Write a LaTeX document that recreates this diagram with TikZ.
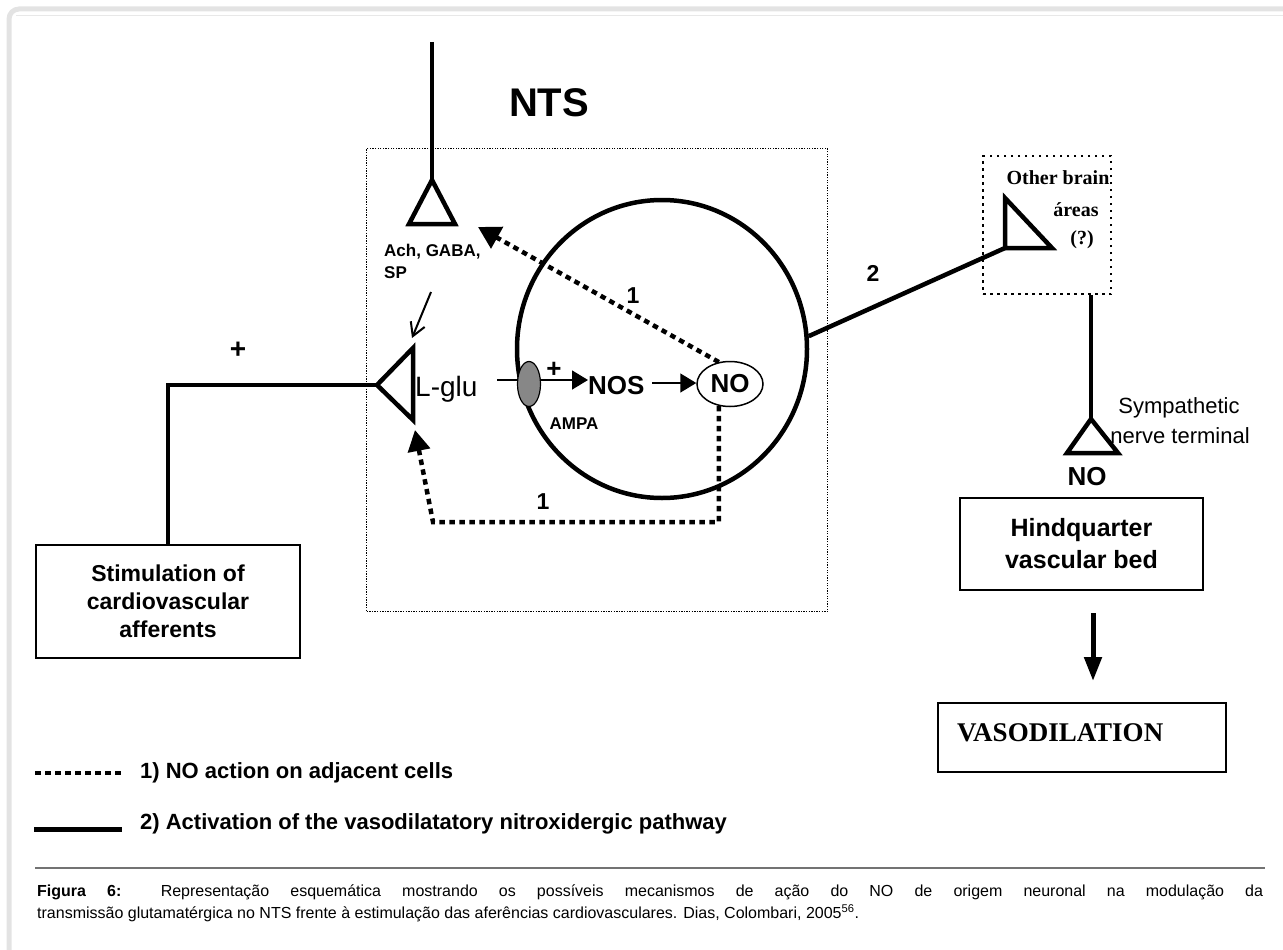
\documentclass[tikz,border=0pt]{standalone}
\usepackage{fontspec}
\setmainfont{Liberation Sans}
\newfontfamily\seriffam{Liberation Serif}
\usetikzlibrary{arrows.meta,calc,shapes.geometric}
\newcommand\fz[2]{\fontsize{#1}{#2}\selectfont}
\begin{document}
\begin{tikzpicture}[x=1pt,y=-1pt,
  thickline/.style={line width=4.5pt, line join=miter},
  thinarrow/.style={line width=1.6pt, -{Triangle[length=16pt,width=19pt]}},
  dotpath/.style={line width=4.5pt, dash pattern=on 5.5pt off 4.5pt},
  boxnode/.style={draw, line width=1.8pt, align=center, inner sep=0pt},
  lbl/.style={inner sep=0pt}
]
\useasboundingbox (0,0) rectangle (1283,950);
% frame
\draw[gray!22, line width=5pt, rounded corners=10pt] (9,9) rectangle (1320,990);
\draw[gray!18, line width=1pt] (16,16) -- (1283,16);
% title
\node[lbl, font=\bfseries\fz{40}{48}] (nts) at (549,103) {NTS};
% NTS box
\node[draw, line width=1.3pt, dash pattern=on 1.3pt off 1.3pt, minimum width=461pt, minimum height=463pt, inner sep=0pt, anchor=north west] (ntsbox) at (366,148) {};
% big cell
\node[draw, ellipse, line width=4.5pt, minimum width=290pt, minimum height=298pt, inner sep=0pt] (cell) at (662,349) {};
% top input and Ach terminal
\coordinate (topin) at (432,42);
\coordinate (achapex) at (432,180);
\draw[thickline] (topin) -- (achapex);
\draw[thickline] (achapex) -- (409,224) -- (455,224) -- cycle;
\node[lbl, anchor=base west, font=\bfseries\fz{17}{22}] (achlbl) at (384,256) {Ach, GABA,};
\node[lbl, anchor=base west, font=\bfseries\fz{17}{22}] (achlbl2) at (384,278) {SP};
% small open arrow
\coordinate (sa1) at (431,292);
\coordinate (sa2) at (412,338);
\draw[line width=2pt, -{Straight Barb[length=13pt,width=15pt]}] (sa1) -- (sa2);
% L-glu terminal
\coordinate (lapex) at (377,385);
\draw[thickline] (lapex) -- (413,348) -- (413,420) -- cycle;
\node[lbl, anchor=base west, font=\fz{28}{32}] (lglu) at (415,396) {L-glu};
% AMPA and NOS
\coordinate (lgl) at (497,380);
\node[lbl, anchor=base west, font=\bfseries\fz{26}{30}] (nos) at (588,394) {NOS};
\draw[thinarrow] (lgl) -- (nos.west |- lgl);
\node[draw, ellipse, line width=1.2pt, fill=black!47, minimum width=23pt, minimum height=45pt, inner sep=0pt] (ampa) at (529,384) {};
\node[lbl, font=\bfseries\fz{26}{30}] (plus1) at (554,370) {+};
\node[lbl, font=\bfseries\fz{17}{20}] (ampalbl) at (574,424) {AMPA};
% NO
\node[draw, ellipse, line width=1.5pt, minimum width=66pt, minimum height=45pt, inner sep=0pt, font=\bfseries\fz{26}{30}] (no) at (730,384) {NO};
\coordinate (nosout) at (652,383);
\draw[thinarrow] (nosout) -- (no.west |- nosout);
% dotted pathway 1 (upper)
\coordinate (achtip) at (478,227);
\draw[dotpath, -{Triangle[length=22pt,width=24pt]}] (no.117) -- (achtip);
\node[lbl, font=\bfseries\fz{23}{26}] (one1) at (633,296) {1};
% dotted pathway 1 (lower)
\coordinate (lc) at (433,522);
\coordinate (rc) at (no.243 |- lc);
\coordinate (ltip) at (415,430);
\draw[dotpath, -{Triangle[length=21pt,width=22pt]}] (no.243) -- (rc) -- (lc) -- (ltip);
\node[lbl, font=\bfseries\fz{23}{26}] (one2) at (543,502) {1};
% afferents
\node[boxnode, minimum width=264pt, minimum height=113pt, font=\bfseries\fz{23}{28}] (stim) at (168,601.5) {Stimulation of\\cardiovascular\\afferents};
\draw[thickline] (stim.north) |- (lapex);
\node[lbl, font=\bfseries\fz{28}{30}] (plus2) at (238,350) {+};
% pathway 2
\node[draw, line width=2.4pt, dash pattern=on 2.4pt off 4.6pt, minimum width=128pt, minimum height=138pt, inner sep=0pt, anchor=north west] (brainbox) at (982,155) {};
\coordinate (brapex) at (1005,198);
\coordinate (brcorner) at (1005,248);
\draw[thickline] (brapex) -- (brcorner) -- (1052,248) -- cycle;
\draw[thickline] (cell.5) -- (brcorner);
\node[lbl, font=\bfseries\fz{23}{26}] (two) at (873,273) {2};
\node[lbl, font=\seriffam\bfseries\fz{20}{24}] (ob1) at (1058,178) {Other brain};
\node[lbl, font=\seriffam\bfseries\fz{20}{24}] (ob2) at (1076,210) {áreas};
\node[lbl, font=\seriffam\bfseries\fz{20}{24}] (ob3) at (1082,240) {(?)};
% sympathetic terminal
\coordinate (symapex) at (1091,419);
\coordinate (bbout) at (brainbox.south -| symapex);
\draw[thickline] (bbout) -- (symapex);
\draw[thickline] (symapex) -- (1067,453) -- (1118,453) -- cycle;
\node[lbl, font=\fz{22}{26}] (sym1) at (1179,408) {Sympathetic};
\node[lbl, font=\fz{22}{26}] (sym2) at (1180,436) {nerve terminal};
\node[lbl, font=\bfseries\fz{26}{30}] (no2) at (1087,477) {NO};
% hindquarter
\node[boxnode, minimum width=243pt, minimum height=92pt, font=\bfseries\fz{25}{32}] (hq) at (1081.5,544) {Hindquarter\\vascular bed};
\coordinate (da1) at (1093,613);
\coordinate (da2) at (1093,681);
\draw[line width=5pt, -{Triangle[length=24pt,width=17pt]}] (da1) -- (da2);
\node[boxnode, minimum width=288pt, minimum height=69pt] (vaso) at (1082,737.5) {};
\node[lbl, anchor=west, font=\seriffam\bfseries\fz{27}{30}] (vasot) at (957,733) {VASODILATION};
% legend
\coordinate (l1a) at (35,773);
\coordinate (l1b) at (122,773);
\draw[dotpath] (l1a) -- (l1b);
\node[lbl, anchor=west, font=\bfseries\fz{22}{26}] (leg1) at (140,773) {1) NO action on adjacent cells};
\coordinate (l2a) at (34,829);
\coordinate (l2b) at (122,829);
\draw[line width=5pt] (l2a) -- (l2b);
\node[lbl, anchor=west, font=\bfseries\fz{22}{26}] (leg2) at (140,824) {2) Activation of the vasodilatatory nitroxidergic pathway};
% caption
\coordinate (s1) at (35,868);
\coordinate (s2) at (1265,868);
\draw[black!55, line width=1.5pt] (s1) -- (s2);
\node[lbl, anchor=north west, text width=1226pt, align=justify, font=\fz{16}{22}] (cap) at (37,885) {\textbf{Figura 6:} Representação esquemática mostrando os possíveis mecanismos de ação do NO de origem neuronal na modulação da\linebreak transmissão glutamatérgica no NTS frente à estimulação das aferências cardiovasculares. Dias, Colombari, 2005\textsuperscript{56}.};
\end{tikzpicture}
\end{document}
